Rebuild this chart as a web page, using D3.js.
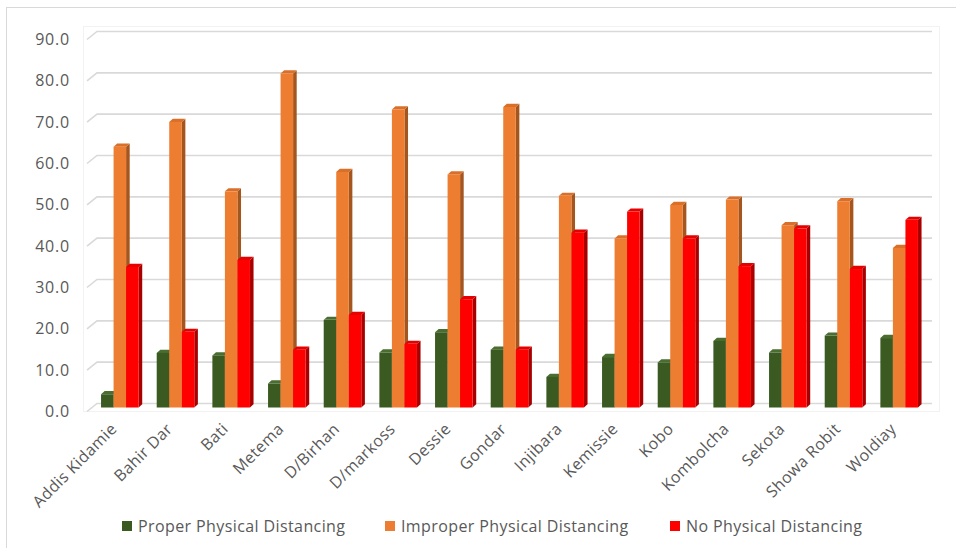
<!DOCTYPE html>
<html>
<head>
<meta charset="utf-8">
<script src="https://cdn.jsdelivr.net/npm/d3@7"></script>
<style>
  html, body { margin: 0; padding: 0; background: #fff; }
  svg text { font-family: "Open Sans", "Noto Sans", sans-serif; fill: #595959; }
</style>
</head>
<body>
<svg id="chart" width="956" height="548"></svg>
<script>
// Districts along the x axis
const categories = ["Addis Kidamie", "Bahir Dar", "Bati", "Metema", "D/Birhan", "D/markoss",
  "Dessie", "Gondar", "Injibara", "Kemissie", "Kobo", "Kombolcha", "Sekota", "Showa Robit", "Woldiay"];

// Percentage of respondents per district
const proper   = [3.2, 13.2, 12.6, 5.8, 21.2, 13.3, 18.2, 14.0, 7.4, 12.2, 10.9, 16.1, 13.3, 17.4, 16.8];
const improper = [63.1, 69.1, 52.3, 80.8, 57.0, 72.1, 56.4, 72.7, 51.2, 40.9, 49.0, 50.3, 44.1, 49.9, 38.6];
const noDist   = [34.0, 18.3, 35.7, 14.0, 22.4, 15.4, 26.2, 14.0, 42.3, 47.4, 40.9, 34.2, 43.3, 33.5, 45.4];

const seriesNames = ["Proper Physical Distancing", "Improper Physical Distancing", "No Physical Distancing"];
const seriesValues = [proper, improper, noDist];
const yTicks = [0, 10, 20, 30, 40, 50, 60, 70, 80, 90];

// face colours: front, side, top
const palette = [
  { front: "#3a5a22", side: "#263d15", top: "#4a6d30" },
  { front: "#ed7d31", side: "#a5561f", top: "#d96f28" },
  { front: "#ff0000", side: "#a80000", top: "#e60000" }
];

const svg = d3.select("#chart");

// outer chart frame
svg.append("rect").attr("x", 6.5).attr("y", 7.5).attr("width", 960).attr("height", 560)
  .attr("fill", "none").attr("stroke", "#d9d9d9").attr("stroke-width", 1);

// faint back-wall outline
svg.append("rect").attr("x", 83.5).attr("y", 26.5).attr("width", 856).attr("height", 385)
  .attr("fill", "none").attr("stroke", "#f2f2f2").attr("stroke-width", 1);

// back wall coordinates
const wallLeft = 97, wallRight = 932;
const depthX = 10, depthY = 8;   // front-to-back offset of the floor

const y = d3.scaleLinear().domain([0, 90]).range([403.5, 31.5]);
const x0 = d3.scaleBand().domain(categories).range([wallLeft, wallRight])
  .paddingInner(0.325).paddingOuter(0.1625);
const x1 = d3.scaleBand().domain(d3.range(seriesNames.length)).range([0, x0.bandwidth()]);

// gridlines on the back wall with the slanted side-wall segment
const grid = svg.append("g");
yTicks.forEach(t => {
  const yy = y(t);
  grid.append("path")
    .attr("d", `M${wallLeft - depthX},${yy + depthY} L${wallLeft},${yy} L${wallRight},${yy}`)
    .attr("fill", "none").attr("stroke", "#d9d9d9").attr("stroke-width", 1.6);
});

// y axis labels
const yAxis = d3.axisLeft(y).tickValues(yTicks).tickFormat(d3.format(".1f")).tickSize(0).tickPadding(0);
const yG = svg.append("g").attr("transform", "translate(70,8)").call(yAxis);
yG.select(".domain").remove();
yG.selectAll("text").style("font-size", "16px").style("letter-spacing", "0.8px").attr("fill", "#595959");

// 3D columns placed halfway through the floor depth
const midX = -depthX / 2, midY = depthY / 2;
const d = 3.6, dh = 3.2;   // visible column depth
const bars = svg.append("g");
categories.forEach((cat, ci) => {
  seriesValues.forEach((vals, si) => {
    const v = vals[ci];
    const bx = x0(cat) + x1(si) + midX;
    const bw = x1.bandwidth();
    const top = y(v) + midY;
    const bottom = y(0) + midY;
    const c = palette[si];
    const g = bars.append("g");
    g.append("path")
      .attr("d", `M${bx + bw},${top} L${bx + bw + d},${top - dh} L${bx + bw + d},${bottom - dh} L${bx + bw},${bottom} Z`)
      .attr("fill", c.side);
    g.append("path")
      .attr("d", `M${bx},${top} L${bx + d},${top - dh} L${bx + bw + d},${top - dh} L${bx + bw},${top} Z`)
      .attr("fill", c.top);
    g.append("rect").attr("x", bx).attr("y", top).attr("width", bw).attr("height", bottom - top)
      .attr("fill", c.front);
  });
});

// category labels, rotated
const xl = svg.append("g");
categories.forEach(cat => {
  const cx = x0(cat) + x0.bandwidth() / 2 + midX;
  xl.append("text")
    .attr("transform", `translate(${cx - 6},${426}) rotate(-45)`)
    .attr("text-anchor", "end")
    .attr("dy", "0.35em")
    .style("font-size", "16px")
    .style("letter-spacing", "0.4px")
    .text(cat);
});

// legend
const legendX = [122, 385, 670];
const legend = svg.append("g");
seriesNames.forEach((name, i) => {
  legend.append("rect").attr("x", legendX[i]).attr("y", 521).attr("width", 10).attr("height", 10)
    .attr("fill", palette[i].front);
  legend.append("text").attr("x", legendX[i] + 16).attr("y", 526).attr("dy", "0.35em")
    .style("font-size", "16px").style("letter-spacing", "0.4px").text(name);
});
</script>
</body>
</html>
